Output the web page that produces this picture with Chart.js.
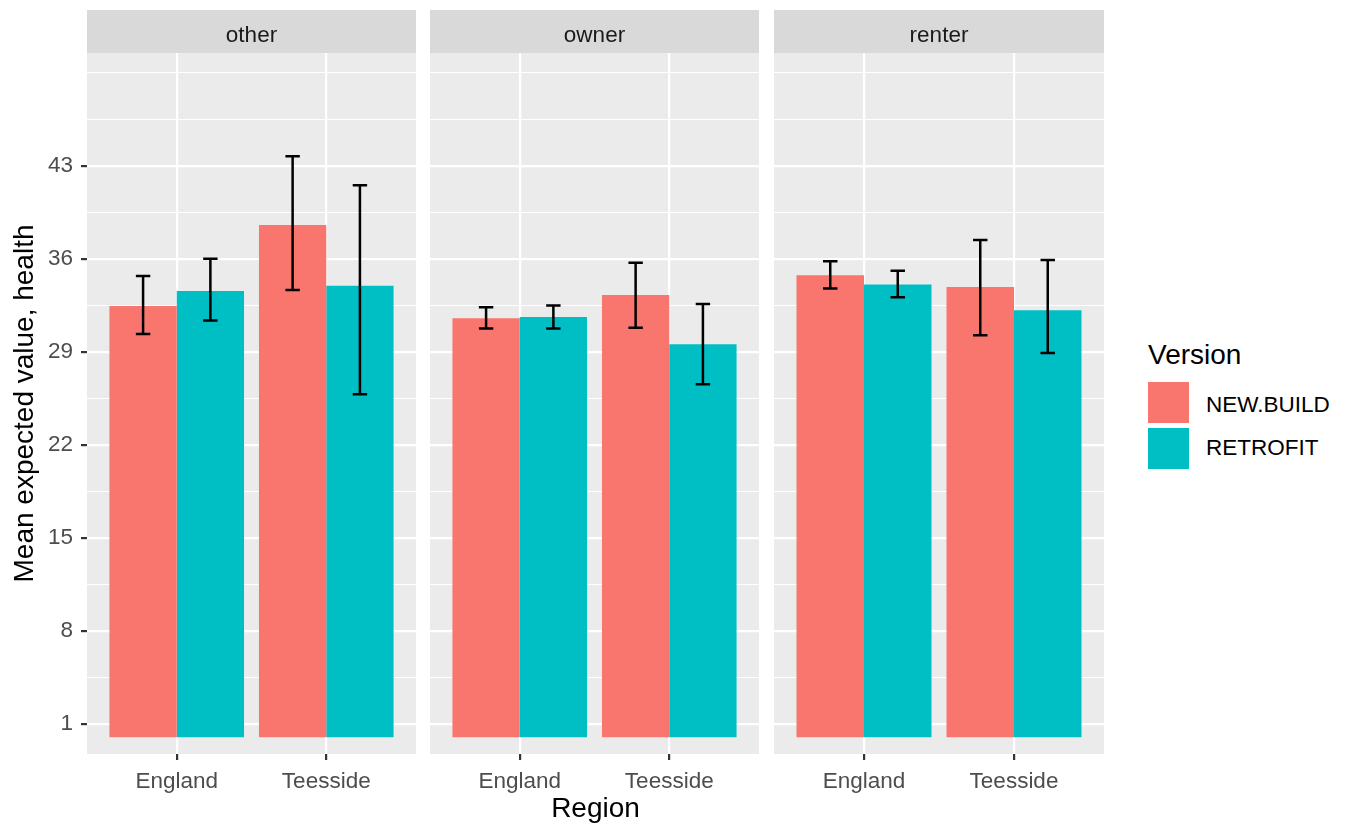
<!DOCTYPE html>
<html>
<head>
<meta charset="utf-8">
<script src="https://cdn.jsdelivr.net/npm/chart.js@4"></script>
<style>
  body { margin: 0; background: #fff; }
  #wrap { position: relative; width: 1352px; height: 829px; overflow: hidden; font-family: "Liberation Sans", Arial, sans-serif; }
  #wrap canvas { position: absolute; top: 0; }
  .xtitle { position: absolute; left: 87px; width: 1017px; top: 794px; text-align: center; font-size: 28px; line-height: 28px; color: #000; }
  .legend-title { position: absolute; left: 1148px; top: 341px; font-size: 28px; line-height: 28px; color: #000; }
  .key { position: absolute; left: 1148px; width: 41px; height: 41px; }
  .key-label { position: absolute; left: 1206px; font-size: 22.5px; line-height: 22px; color: #000; }
</style>
</head>
<body>
<div id="wrap">
  <canvas id="panel0" width="416" height="829" style="left:0px"></canvas>
  <canvas id="panel1" width="329" height="829" style="left:430px"></canvas>
  <canvas id="panel2" width="330" height="829" style="left:774px"></canvas>
  <div class="xtitle">Region</div>
  <div id="legend"></div>
</div>
<script>
const tenures = ['other', 'owner', 'renter'];
const regions = ['England', 'Teesside'];
const versions = ['NEW.BUILD', 'RETROFIT'];
const versionColors = ['#F8766D', '#00BFC4'];

// one row per tenure (other, owner, renter), one value per region (England, Teesside)
const newBuildMean = [[32.46, 38.56], [31.54, 33.29], [34.77, 33.89]];
const newBuildLow  = [[30.35, 33.67], [30.76, 30.83], [33.77, 30.26]];
const newBuildHigh = [[34.72, 43.73], [32.36, 35.72], [35.83, 37.43]];
const retrofitMean = [[33.59, 33.99], [31.63, 29.58], [34.07, 32.14]];
const retrofitLow  = [[31.36, 25.81], [30.76, 26.57], [33.11, 28.92]];
const retrofitHigh = [[36.02, 41.55], [32.49, 32.61], [35.12, 35.92]];

const yTicks = [1, 8, 15, 22, 29, 36, 43];
const yMinorTicks = [4.5, 11.5, 18.5, 25.5, 32.5, 39.5, 46.5, 50];

const fontFamily = '"Liberation Sans", Arial, sans-serif';

// grey panel + facet strip behind everything
const panelBackground = {
    id: 'panelBackground',
    beforeDraw(chart, args, opts) {
        const { ctx, chartArea: a } = chart;
        ctx.save();
        ctx.fillStyle = '#EBEBEB';
        ctx.fillRect(a.left, a.top, a.right - a.left, a.bottom - a.top);
        ctx.fillStyle = '#D9D9D9';
        ctx.fillRect(a.left, 10, a.right - a.left, a.top - 10);
        ctx.fillStyle = '#1A1A1A';
        ctx.font = '22.5px ' + fontFamily;
        ctx.textAlign = 'center';
        ctx.textBaseline = 'alphabetic';
        ctx.fillText(opts.label, (a.left + a.right) / 2, 42);
        ctx.restore();
    }
};

// error bars on top of each bar
const errorBars = {
    id: 'errorBars',
    afterDatasetsDraw(chart) {
        const { ctx } = chart;
        const y = chart.scales.y;
        ctx.save();
        ctx.strokeStyle = '#000000';
        ctx.lineWidth = 2.5;
        chart.data.datasets.forEach((ds, di) => {
            chart.getDatasetMeta(di).data.forEach((bar, j) => {
                const top = y.getPixelForValue(ds.errHigh[j]);
                const bottom = y.getPixelForValue(ds.errLow[j]);
                const half = bar.width * 0.107;
                ctx.beginPath();
                ctx.moveTo(bar.x, top);
                ctx.lineTo(bar.x, bottom);
                ctx.moveTo(bar.x - half, top);
                ctx.lineTo(bar.x + half, top);
                ctx.moveTo(bar.x - half, bottom);
                ctx.lineTo(bar.x + half, bottom);
                ctx.stroke();
            });
        });
        ctx.restore();
    }
};

function makePanel(i) {
    const first = i === 0;
    const means = [newBuildMean[i], retrofitMean[i]];
    const lows = [newBuildLow[i], retrofitLow[i]];
    const highs = [newBuildHigh[i], retrofitHigh[i]];

    const datasets = versions.map((v, k) => ({
        label: v,
        data: regions.map((r, j) => ({ x: j + 1, y: means[k][j] })),
        errLow: lows[k],
        errHigh: highs[k],
        backgroundColor: versionColors[k],
        borderWidth: 0,
        categoryPercentage: 0.9,
        barPercentage: 1.0
    }));

    new Chart(document.getElementById('panel' + i), {
        type: 'bar',
        data: { datasets },
        options: {
            responsive: false,
            animation: false,
            layout: { padding: { top: 53, left: 0, right: 0, bottom: 0 } },
            plugins: {
                legend: { display: false },
                tooltip: { enabled: false },
                panelBackground: { label: tenures[i] }
            },
            scales: {
                x: {
                    type: 'linear',
                    min: 0.4,
                    max: 2.6,
                    offset: false,
                    afterBuildTicks: scale => { scale.ticks = regions.map((r, j) => ({ value: j + 1 })); },
                    afterFit: scale => { scale.height = 829 - 754; },
                    border: { display: false },
                    grid: {
                        offset: false,
                        color: '#FFFFFF',
                        lineWidth: 2.2,
                        drawTicks: true,
                        tickLength: 6,
                        tickColor: '#333333',
                        tickWidth: 2.2
                    },
                    ticks: {
                        autoSkip: false,
                        maxRotation: 0,
                        padding: 8,
                        color: '#4D4D4D',
                        font: { size: 22.5, family: fontFamily },
                        callback: (value, index) => regions[index]
                    }
                },
                y: {
                    min: -1.26,
                    max: 51.5,
                    afterBuildTicks: scale => {
                        scale.ticks = yTicks.concat(yMinorTicks).sort((a, b) => a - b).map(v => ({ value: v }));
                    },
                    afterFit: scale => { scale.width = first ? 87 : 0; },
                    border: { display: false },
                    grid: {
                        color: '#FFFFFF',
                        lineWidth: ctx => yTicks.includes(ctx.tick.value) ? 2.2 : 1.1,
                        drawTicks: first,
                        tickLength: 6,
                        tickColor: ctx => yTicks.includes(ctx.tick.value) ? '#333333' : 'rgba(0,0,0,0)',
                        tickWidth: 2.2
                    },
                    ticks: {
                        display: first,
                        autoSkip: false,
                        padding: 8,
                        color: '#4D4D4D',
                        font: { size: 22.5, family: fontFamily },
                        callback: value => yTicks.includes(value) ? String(value) : ''
                    },
                    title: {
                        display: first,
                        text: 'Mean expected value, health',
                        color: '#000000',
                        font: { size: 28, family: fontFamily },
                        padding: { top: 8, bottom: 0 }
                    }
                }
            }
        },
        plugins: [panelBackground, errorBars]
    });
}

tenures.forEach((t, i) => makePanel(i));

// legend
const legend = document.getElementById('legend');
const legendTitle = document.createElement('div');
legendTitle.className = 'legend-title';
legendTitle.textContent = 'Version';
legend.appendChild(legendTitle);
versions.forEach((v, k) => {
    const key = document.createElement('div');
    key.className = 'key';
    key.style.top = (382 + k * 45.5) + 'px';
    key.style.background = versionColors[k];
    legend.appendChild(key);
    const label = document.createElement('div');
    label.className = 'key-label';
    label.style.top = (394 + k * 42.5) + 'px';
    label.textContent = v;
    legend.appendChild(label);
});
</script>
</body>
</html>
